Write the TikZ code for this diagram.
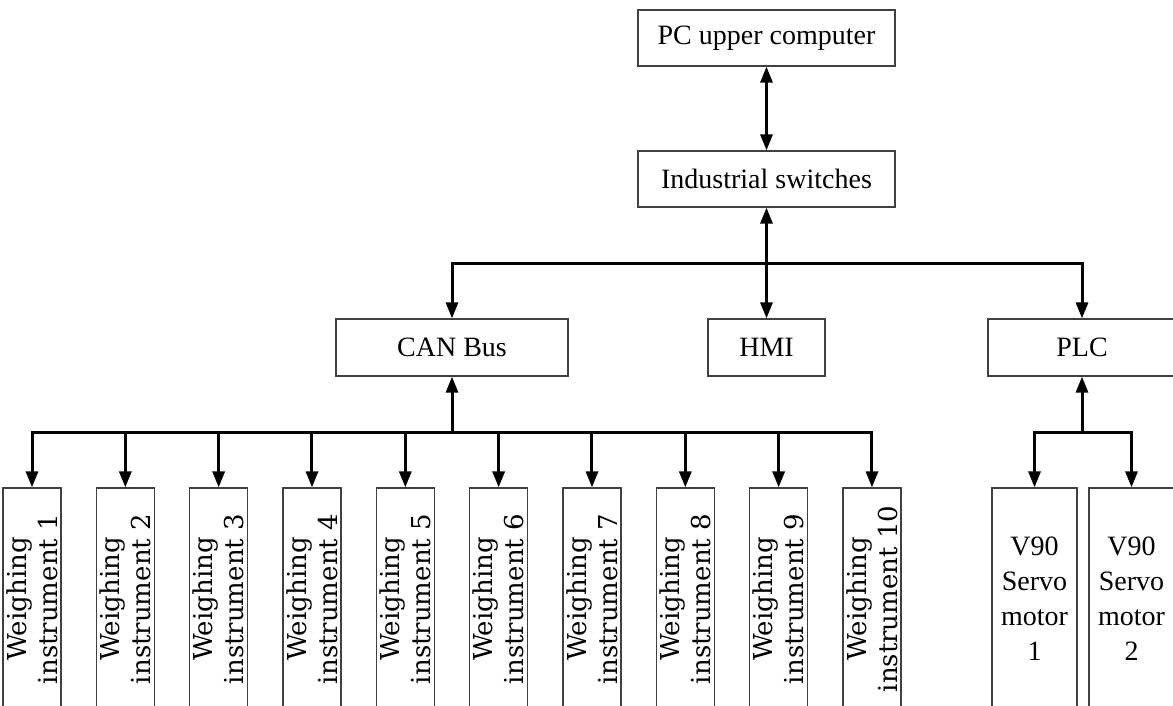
\documentclass[tikz,border=0pt]{standalone}
\usepackage{fontspec}
\setmainfont{Liberation Serif}
\newfontfamily\instfont{DejaVu Serif}
\usetikzlibrary{positioning,arrows.meta}

\begin{document}
\begin{tikzpicture}[x=0.5pt,y=-0.5pt,
  mybox/.style = {draw=black!75, line width=0.6pt, inner sep=0pt, align=center, font=\fontsize{14}{17.5}\selectfont},
  instbox/.style = {mybox, rotate=90, minimum width=111pt, minimum height=29pt, font=\instfont\fontsize{13}{15.5}\selectfont},
  mylink/.style = {line width=1.5pt, -{Triangle[width=6pt,length=8pt]}},
  mybilink/.style = {line width=1.5pt, {Triangle[width=6pt,length=8pt]}-{Triangle[width=6pt,length=8pt]}}]
\useasboundingbox (0,0) rectangle (1173,706);
\node[mybox, minimum width=128.5pt, minimum height=28pt] (pc) at (766.5,38) {PC upper computer};
\node[mybox, minimum width=128.5pt, minimum height=28pt] (switch) at (766.5,179) {Industrial switches};
\node[mybox, minimum width=116pt, minimum height=28.5pt] (can) at (452,347.5) {CAN Bus};
\node[mybox, minimum width=58.5pt, minimum height=28.5pt] (hmi) at (766.5,347.5) {HMI};
\node[mybox, minimum width=94pt, minimum height=28.5pt] (plc) at (1082,347.5) {PLC};
% weighing instruments
\foreach \i in {1,...,10}
  \node[instbox] (w\i) at ({32+93.33*(\i-1)},599) {Weighing\\instrument \i};
\node[mybox, minimum width=42.5pt, minimum height=111pt] (servo1) at (1034.5,599) {V90\\Servo\\motor\\1};
\node[mybox, minimum width=42.5pt, minimum height=111pt] (servo2) at (1131.5,599) {V90\\Servo\\motor\\2};
% connections
\draw[mybilink] (pc) -- (switch);
\draw[mybilink] (switch) -- (hmi);
\coordinate (topbus) at (766.5,263);
\draw[mylink] (topbus) -| (can);
\draw[mylink] (topbus) -| (plc);
\coordinate (canbus) at (452,432);
\draw[mylink] (canbus) -- (can);
\foreach \i in {1,...,10}
  \draw[mylink] (canbus) -| (w\i);
\coordinate (plcbus) at (1082,432);
\draw[mylink] (plcbus) -- (plc);
\draw[mylink] (plcbus) -| (servo1);
\draw[mylink] (plcbus) -| (servo2);
\end{tikzpicture}
\end{document}
